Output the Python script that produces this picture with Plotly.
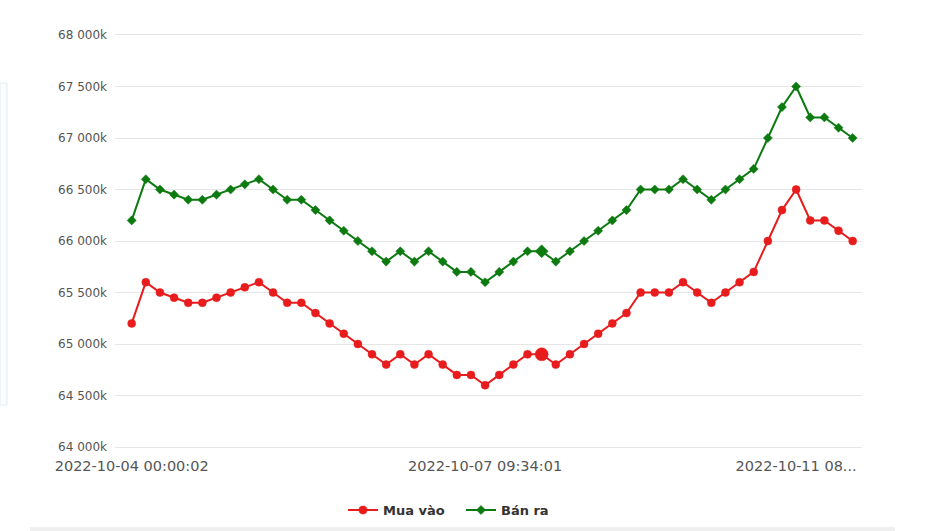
import plotly.graph_objects as go

# ---- data (values in thousand VND) ----
series_names = ["Mua vào", "Bán ra"]
mua_vao = [65200, 65600, 65500, 65450, 65400, 65400, 65450, 65500, 65550, 65600,
           65500, 65400, 65400, 65300, 65200, 65100, 65000, 64900, 64800, 64900,
           64800, 64900, 64800, 64700, 64700, 64600, 64700, 64800, 64900, 64900,
           64800, 64900, 65000, 65100, 65200, 65300, 65500, 65500, 65500, 65600,
           65500, 65400, 65500, 65600, 65700, 66000, 66300, 66500, 66200, 66200,
           66100, 66000]
ban_ra = [66200, 66600, 66500, 66450, 66400, 66400, 66450, 66500, 66550, 66600,
          66500, 66400, 66400, 66300, 66200, 66100, 66000, 65900, 65800, 65900,
          65800, 65900, 65800, 65700, 65700, 65600, 65700, 65800, 65900, 65900,
          65800, 65900, 66000, 66100, 66200, 66300, 66500, 66500, 66500, 66600,
          66500, 66400, 66500, 66600, 66700, 67000, 67300, 67500, 67200, 67200,
          67100, 67000]
x_tick_index = [0, 25, 47]
x_tick_labels = ["2022-10-04 00:00:02", "2022-10-07 09:34:01", "2022-10-11 08..."]
y_tick_values = [64000, 64500, 65000, 65500, 66000, 66500, 67000, 67500, 68000]
y_tick_labels = ["64 000k", "64 500k", "65 000k", "65 500k", "66 000k",
                 "66 500k", "67 000k", "67 500k", "68 000k"]
highlight_index = 29

x = list(range(len(mua_vao)))

RED = "#e81c1c"
GREEN = "#0d7a10"

red_sizes = [13 if i == highlight_index else 8 for i in x]
green_sizes = [10 if i == highlight_index else 7 for i in x]

fig = go.Figure()
fig.add_trace(go.Scatter(
    x=x, y=mua_vao, name=series_names[0], mode="lines+markers",
    line=dict(color=RED, width=2),
    marker=dict(symbol="circle", size=red_sizes, color=RED, opacity=1,
                line=dict(width=0.5, color=RED)),
))
fig.add_trace(go.Scatter(
    x=x, y=ban_ra, name=series_names[1], mode="lines+markers",
    line=dict(color=GREEN, width=2),
    marker=dict(symbol="diamond", size=green_sizes, color=GREEN, opacity=1,
                line=dict(width=0.5, color=GREEN)),
))

fig.update_layout(
    width=930, height=531,
    margin=dict(l=115, r=68, t=35, b=84, autoexpand=False),
    paper_bgcolor="white", plot_bgcolor="white",
    font=dict(family="DejaVu Sans", color="#555"),
    showlegend=True,
    legend=dict(orientation="h", x=(343 - 115) / 747, xanchor="left", y=-0.153,
                yanchor="middle", bgcolor="rgba(0,0,0,0)",
                font=dict(family="DejaVu Sans", size=13, color="#333", weight="bold"),
                itemwidth=30, entrywidth=73, tracegroupgap=0),
    xaxis=dict(range=[-1.18, 51.66], tickvals=x_tick_index, ticktext=x_tick_labels,
               showgrid=False, zeroline=False, showline=True, mirror=True,
               linecolor="#e6e6e6", linewidth=1, automargin=False,
               tickfont=dict(size=14.5, color="#555"), ticklabelstandoff=6),
    yaxis=dict(range=[64000, 68000], tickvals=y_tick_values, ticktext=y_tick_labels,
               showgrid=True, gridcolor="#e6e6e6", gridwidth=1, zeroline=False,
               showline=False, automargin=False,
               tickfont=dict(size=12, color="#555"), ticklabelstandoff=7),
    shapes=[
        dict(type="rect", xref="paper", yref="paper",
             x0=(30 - 115) / 747, x1=(895 - 115) / 747,
             y0=(447 - 531) / 412, y1=(447 - 527) / 412,
             fillcolor="#efefef", line=dict(width=0), layer="below"),
        dict(type="rect", xref="paper", yref="paper",
             x0=(0 - 115) / 747, x1=(7 - 115) / 747,
             y0=(447 - 405) / 412, y1=(447 - 83) / 412,
             fillcolor="#fafcfe", line=dict(color="#e4ecf4", width=1), layer="below"),
    ],
)

fig.write_html("out.html")
